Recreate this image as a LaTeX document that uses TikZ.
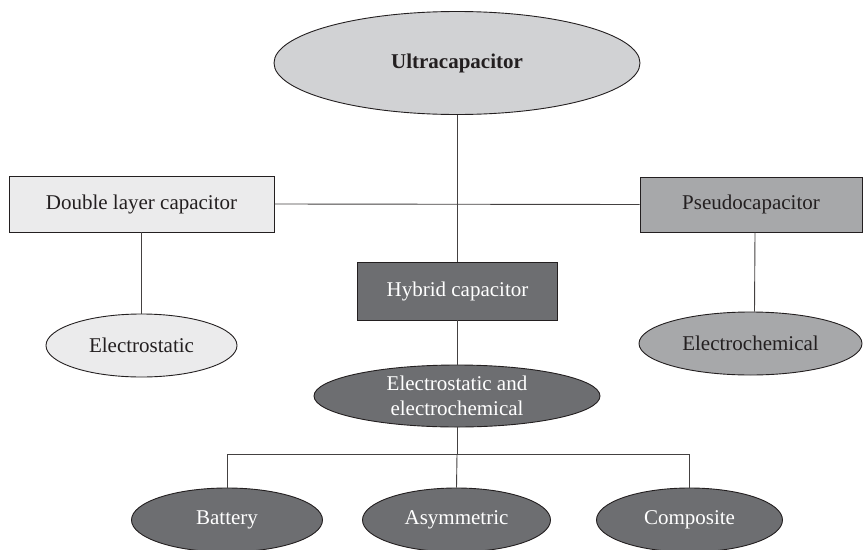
\documentclass[tikz,border=0pt]{standalone}
\usepackage{fontspec}
\setmainfont{Liberation Serif}
\usetikzlibrary{shapes.geometric}
\definecolor{lightfill}{HTML}{EBEBEC}
\definecolor{topfill}{HTML}{D1D2D4}
\definecolor{midfill}{HTML}{A7A8AA}
\definecolor{darkfill}{HTML}{6D6E71}
\definecolor{edge}{HTML}{231F20}
\definecolor{txt}{HTML}{231F20}
\tikzset{
  base/.style={draw=edge, line width=0.9pt, inner sep=0pt, align=center,
    font=\fontsize{21}{25}\selectfont},
  boxnode/.style={base, rectangle},
  ovalnode/.style={base, ellipse},
  link/.style={draw=edge!85, line width=0.9pt},
}
\begin{document}
\begin{tikzpicture}[x=1pt, y=-1pt]
\useasboundingbox (0,0) rectangle (864,549);

% root
\node[ovalnode, fill=topfill, text=txt, minimum width=366pt, minimum height=103pt]
  (ultra) at (457,63) {\textbf{Ultracapacitor}};

% second level
\node[boxnode, fill=lightfill, text=txt, minimum width=265pt, minimum height=56pt]
  (dbl) at (141.5,204) {Double layer capacitor};
\node[boxnode, fill=midfill, text=txt, minimum width=222pt, minimum height=55pt]
  (pseudo) at (751,204.5) {Pseudocapacitor};
\node[boxnode, fill=darkfill, text=white, minimum width=200pt, minimum height=58pt]
  (hybrid) at (457.5,291) {Hybrid capacitor};

% mechanisms
\node[ovalnode, fill=lightfill, text=txt, minimum width=191pt, minimum height=63pt]
  (estat) at (141.5,345.5) {Electrostatic};
\node[ovalnode, fill=midfill, text=txt, minimum width=223pt, minimum height=63pt]
  (echem) at (750.5,343.5) {Electrochemical};
\node[ovalnode, fill=darkfill, text=white, minimum width=286pt, minimum height=62pt]
  (both) at (457,396) {Electrostatic and\\electrochemical};

% hybrid types
\node[ovalnode, fill=darkfill, text=white, minimum width=191pt, minimum height=64pt]
  (bat) at (227,520) {Battery};
\node[ovalnode, fill=darkfill, text=white, minimum width=188pt, minimum height=64pt]
  (asym) at (456.5,520) {Asymmetric};
\node[ovalnode, fill=darkfill, text=white, minimum width=186pt, minimum height=64pt]
  (comp) at (689.5,520) {Composite};

\coordinate (split) at (457,454);

% connectors
\draw[link] (ultra.south) -- (hybrid.north -| ultra.south);
\draw[link] (dbl.east) -- (pseudo.west);
\draw[link] (dbl.south) -- (estat.north);
\draw[link] ([xshift=4pt]pseudo.south) -- ([xshift=4pt]echem.north);
\draw[link] (hybrid.south -| both.north) -- (both.north);
\draw[link] (both.south) -- (split);
\draw[link] (bat.north) -- (bat.north |- split) -- (comp.north |- split) -- (comp.north);
\draw[link] (split) -- (asym.north);
\end{tikzpicture}
\end{document}
